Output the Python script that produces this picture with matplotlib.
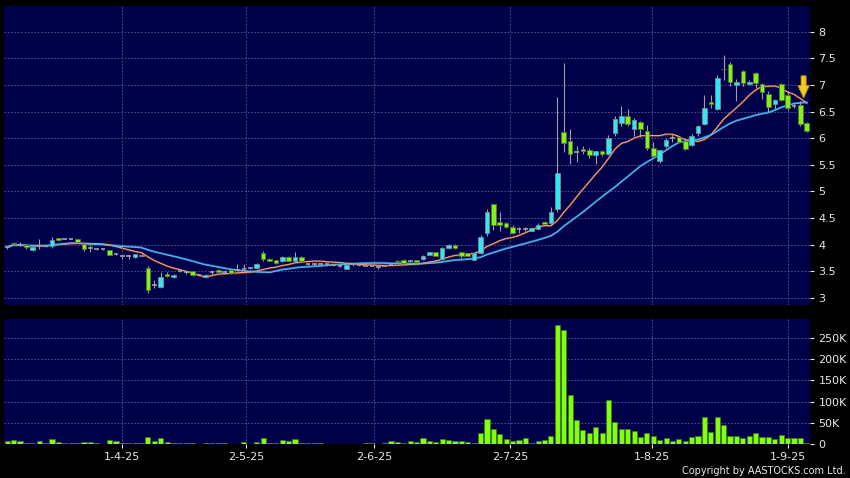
import matplotlib
matplotlib.use("Agg")
import matplotlib.pyplot as plt
from matplotlib.patches import Polygon
import numpy as np
import pandas as pd

# daily candles (HKD)
opens = [3.96, 4.03, 4.00, 4.00, 3.90, 3.98, 3.97, 3.98, 4.12, 4.11,
         4.11, 4.10, 4.02, 3.94, 3.93, 3.92, 3.90, 3.82, 3.78, 3.78,
         3.77, 3.79, 3.56, 3.25, 3.20, 3.46, 3.39, 3.50, 3.48, 3.50,
         3.43, 3.40, 3.48, 3.53, 3.49, 3.53, 3.53, 3.55, 3.56, 3.56,
         3.84, 3.73, 3.71, 3.69, 3.77, 3.69, 3.77, 3.64, 3.64, 3.63,
         3.63, 3.62, 3.60, 3.55, 3.63, 3.62, 3.61, 3.61, 3.58, 3.61,
         3.63, 3.70, 3.72, 3.70, 3.71, 3.73, 3.81, 3.86, 3.73, 3.94,
         4.00, 3.86, 3.84, 3.72, 3.84, 4.22, 4.76, 4.42, 4.40, 4.33,
         4.30, 4.29, 4.26, 4.30, 4.42, 4.40, 4.68, 6.12, 5.95, 5.74,
         5.80, 5.77, 5.69, 5.76, 5.70, 6.09, 6.29, 6.42, 6.17, 6.30,
         6.14, 5.82, 5.57, 5.86, 6.00, 6.02, 5.95, 5.87, 6.09, 6.26,
         6.68, 6.55, 7.30, 7.39, 6.99, 7.26, 7.02, 7.22, 7.01, 6.83,
         6.65, 7.01, 6.81, 6.61, 6.62, 6.28]
highs = [3.98, 4.05, 4.06, 4.01, 3.97, 4.11, 3.98, 4.15, 4.13, 4.12,
         4.12, 4.11, 4.03, 3.99, 3.94, 3.93, 3.91, 3.84, 3.80, 3.80,
         3.83, 3.82, 3.61, 3.34, 3.48, 3.48, 3.45, 3.52, 3.50, 3.51,
         3.45, 3.45, 3.53, 3.55, 3.53, 3.54, 3.64, 3.64, 3.58, 3.65,
         3.88, 3.75, 3.72, 3.78, 3.78, 3.86, 3.78, 3.66, 3.65, 3.65,
         3.64, 3.63, 3.62, 3.63, 3.65, 3.64, 3.62, 3.62, 3.61, 3.62,
         3.64, 3.71, 3.73, 3.72, 3.72, 3.80, 3.87, 3.87, 3.95, 4.01,
         4.01, 3.87, 3.85, 3.85, 4.19, 4.68, 4.77, 4.62, 4.42, 4.37,
         4.34, 4.33, 4.33, 4.40, 4.44, 4.70, 6.78, 7.41, 6.18, 5.85,
         5.86, 5.82, 5.76, 5.78, 6.06, 6.42, 6.61, 6.54, 6.38, 6.32,
         6.25, 5.92, 5.78, 6.00, 6.07, 6.05, 5.98, 6.07, 6.25, 6.81,
         6.81, 7.19, 7.56, 7.43, 7.11, 7.28, 7.09, 7.25, 7.03, 6.88,
         6.74, 7.03, 6.88, 6.64, 6.70, 6.30]
lows = [3.93, 4.00, 3.97, 3.93, 3.89, 3.92, 3.95, 3.94, 4.08, 4.10,
        4.10, 4.04, 3.88, 3.86, 3.91, 3.91, 3.80, 3.80, 3.73, 3.73,
        3.76, 3.78, 3.09, 3.19, 3.18, 3.40, 3.37, 3.48, 3.46, 3.42,
        3.41, 3.39, 3.45, 3.47, 3.46, 3.46, 3.51, 3.53, 3.55, 3.55,
        3.70, 3.69, 3.64, 3.67, 3.69, 3.68, 3.68, 3.62, 3.62, 3.61,
        3.61, 3.60, 3.58, 3.54, 3.61, 3.60, 3.60, 3.60, 3.55, 3.60,
        3.62, 3.66, 3.64, 3.68, 3.67, 3.72, 3.80, 3.78, 3.72, 3.93,
        3.93, 3.76, 3.78, 3.71, 3.83, 4.16, 4.28, 4.25, 4.31, 4.20,
        4.22, 4.25, 4.25, 4.29, 4.38, 4.37, 4.62, 5.75, 5.52, 5.55,
        5.70, 5.62, 5.52, 5.67, 5.68, 6.05, 6.22, 6.22, 6.05, 6.02,
        5.78, 5.65, 5.53, 5.82, 5.93, 5.92, 5.77, 5.85, 6.05, 6.25,
        6.57, 6.52, 7.09, 6.97, 6.69, 6.98, 7.00, 6.95, 6.74, 6.50,
        6.55, 6.69, 6.53, 6.57, 6.22, 6.12]
closes = [3.96, 4.02, 4.00, 3.96, 3.96, 3.98, 3.97, 4.09, 4.09, 4.11,
          4.11, 4.05, 3.92, 3.94, 3.93, 3.92, 3.80, 3.82, 3.78, 3.78,
          3.82, 3.81, 3.15, 3.25, 3.40, 3.41, 3.43, 3.50, 3.48, 3.44,
          3.43, 3.44, 3.48, 3.48, 3.49, 3.47, 3.53, 3.55, 3.56, 3.64,
          3.74, 3.70, 3.66, 3.77, 3.70, 3.77, 3.69, 3.64, 3.64, 3.63,
          3.63, 3.62, 3.60, 3.62, 3.63, 3.62, 3.61, 3.61, 3.58, 3.61,
          3.63, 3.67, 3.65, 3.70, 3.68, 3.79, 3.86, 3.79, 3.94, 4.00,
          3.94, 3.78, 3.79, 3.84, 4.14, 4.62, 4.37, 4.37, 4.33, 4.22,
          4.30, 4.29, 4.32, 4.38, 4.39, 4.61, 5.34, 5.91, 5.70, 5.74,
          5.76, 5.69, 5.76, 5.70, 6.00, 6.36, 6.41, 6.26, 6.34, 6.17,
          5.82, 5.66, 5.77, 5.97, 6.00, 5.93, 5.80, 6.05, 6.22, 6.56,
          6.64, 7.13, 7.29, 7.05, 7.05, 7.03, 7.06, 7.03, 6.87, 6.59,
          6.71, 6.72, 6.57, 6.61, 6.26, 6.14]
# volume in thousands of shares
volumes = [8, 10, 6, 3, 3, 8, 3, 12, 4, 3,
           3, 3, 5, 4, 3, 1, 9, 6, 3, 2,
           2, 2, 17, 6, 13, 5, 3, 3, 2, 2,
           1, 2, 2, 2, 2, 1, 1, 5, 0.5, 5,
           15, 3, 2, 9, 6, 12, 3, 3, 2, 2,
           1, 1, 1, 1, 1, 0.5, 2, 2, 0.3, 2,
           6, 5, 2, 6, 5, 13, 8, 5, 12, 9,
           6, 6, 5, 3, 25, 58, 36, 24, 11, 7,
           9, 13, 3, 8, 10, 19, 280, 270, 115, 57,
           34, 27, 41, 26, 104, 51, 36, 35, 31, 17,
           27, 18, 9, 15, 6, 12, 7, 17, 19, 64,
           29, 64, 46, 19, 20, 13, 19, 26, 17, 17,
           12, 22, 13, 13, 13, 3]
date_labels = ["1-4-25", "2-5-25", "2-6-25", "2-7-25", "1-8-25", "1-9-25"]
date_pos = [18, 37.3, 57.4, 78.6, 100.8, 122.1]
price_ticks = [3, 3.5, 4, 4.5, 5, 5.5, 6, 6.5, 7, 7.5, 8]
vol_ticks = [0, 50, 100, 150, 200, 250]
vol_labels = ["0", "50K", "100K", "150K", "200K", "250K"]

BG = "#00004a"
GRID = "#5c5c90"
CYAN = "#30e8f4"
GREEN = "#86f01e"
WICK = "#a0a0a0"
TXT = "#e8e8e8"

o = np.array(opens)
h = np.array(highs)
l = np.array(lows)
c = np.array(closes)
x = np.arange(len(c))
ma10 = pd.Series(c).rolling(10, min_periods=1).mean()
ma20 = pd.Series(c).rolling(20, min_periods=1).mean()

W, H = 850, 478
fig = plt.figure(figsize=(W / 100, H / 100), dpi=100, facecolor="black")
ax = fig.add_axes([4 / W, 1 - 305 / H, 806 / W, 299 / H])
axv = fig.add_axes([4 / W, 1 - 444 / H, 806 / W, 125 / H])

for a in (ax, axv):
    a.set_facecolor(BG)
    for s in a.spines.values():
        s.set_visible(False)
    a.set_xlim(-0.5, len(c) - 0.5)
    a.set_xticks(date_pos)
    a.grid(True, color=GRID, linestyle=(0, (2, 2)), linewidth=0.6)
    a.set_axisbelow(True)
    a.yaxis.tick_right()
    a.tick_params(axis="y", colors=TXT, labelsize=8, length=3, pad=3)

# price panel
ax.set_ylim(2.87, 8.48)
ax.set_yticks(price_ticks)
ax.set_yticklabels([f"{t:g}" for t in price_ticks])
ax.tick_params(axis="x", length=0, labelbottom=False)

ax.plot(x, ma10 - 0.012, color="#6a1a14", lw=1.1, zorder=1)
ax.plot(x, ma10, color="#eea07a", lw=0.9, zorder=2)
ax.plot(x, ma20 + 0.012, color="#2a78b8", lw=1.1, zorder=1)
ax.plot(x, ma20, color="#4cb8f2", lw=0.9, zorder=2)

up = c > o
down = c < o
flat = c == o
ax.vlines(x, l, h, color=WICK, lw=0.8, zorder=3)
ax.bar(x[up], (c - o)[up], bottom=o[up], width=0.72, color=CYAN,
       edgecolor="#7a8a90", linewidth=0.6, zorder=4)
ax.bar(x[down], (o - c)[down], bottom=c[down], width=0.72, color=GREEN,
       edgecolor="#4d7a2a", linewidth=0.6, zorder=4)
ax.hlines(c[flat], x[flat] - 0.36, x[flat] + 0.36, color=WICK, lw=1.2, zorder=4)

# yellow marker arrow over the latest candles
arrow = Polygon([(124.1, 7.17), (124.9, 7.17), (124.9, 6.99), (125.4, 6.99),
                 (124.5, 6.75), (123.6, 6.99), (124.1, 6.99)],
                closed=True, facecolor="#f7c81e", edgecolor="#b08800",
                linewidth=0.6, zorder=6)
ax.add_patch(arrow)

# volume panel
axv.set_ylim(0, 295)
axv.set_yticks(vol_ticks)
axv.set_yticklabels(vol_labels)
axv.bar(x, volumes, width=0.8, color="#80ff10", edgecolor="#3d7a10",
        linewidth=0.5, zorder=3)
axv.set_xticklabels(date_labels)
axv.tick_params(axis="x", colors=TXT, labelsize=8, length=3, pad=3)

fig.text(846 / W, 1 - 471 / H, "Copyright by AASTOCKS.com Ltd.",
         color=TXT, fontsize=7, ha="right", va="center")

fig.savefig("out.png", dpi=100, facecolor="black")
